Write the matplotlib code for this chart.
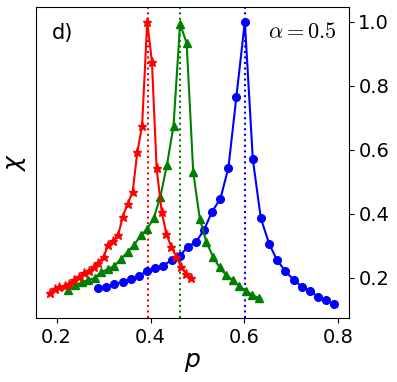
import matplotlib.pyplot as plt

# red stars
p_red = [0.186, 0.196, 0.206, 0.217, 0.227, 0.237, 0.248, 0.258, 0.268, 0.279,
         0.289, 0.300, 0.310, 0.320, 0.331, 0.341, 0.351, 0.362, 0.372, 0.382,
         0.393, 0.403, 0.413, 0.424, 0.434, 0.444, 0.455, 0.465, 0.476, 0.486]
chi_red = [0.151, 0.165, 0.170, 0.175, 0.180, 0.193, 0.203, 0.214, 0.221, 0.234,
           0.247, 0.266, 0.302, 0.315, 0.333, 0.391, 0.430, 0.469, 0.594, 0.674,
           1.000, 0.875, 0.542, 0.404, 0.336, 0.297, 0.266, 0.234, 0.212, 0.200]

# green triangles
p_green = [0.225, 0.239, 0.253, 0.267, 0.281, 0.295, 0.309, 0.323, 0.337, 0.351,
           0.365, 0.379, 0.393, 0.407, 0.421, 0.435, 0.449, 0.463, 0.477, 0.491,
           0.505, 0.519, 0.533, 0.547, 0.561, 0.575, 0.589, 0.603, 0.617, 0.631]
chi_green = [0.163, 0.176, 0.185, 0.193, 0.199, 0.218, 0.226, 0.237, 0.258, 0.280,
             0.302, 0.332, 0.352, 0.387, 0.453, 0.552, 0.674, 0.993, 0.933, 0.530,
             0.384, 0.312, 0.266, 0.232, 0.208, 0.193, 0.174, 0.159, 0.146, 0.136]

# blue circles
p_blue = [0.289, 0.306, 0.323, 0.341, 0.358, 0.375, 0.393, 0.410, 0.427, 0.445,
          0.462, 0.479, 0.497, 0.514, 0.531, 0.549, 0.566, 0.583, 0.601, 0.618,
          0.635, 0.653, 0.670, 0.687, 0.705, 0.722, 0.739, 0.757, 0.774, 0.791]
chi_blue = [0.167, 0.172, 0.179, 0.187, 0.196, 0.206, 0.221, 0.229, 0.238, 0.255,
            0.268, 0.296, 0.312, 0.349, 0.406, 0.447, 0.544, 0.766, 1.000, 0.570,
            0.386, 0.305, 0.254, 0.221, 0.193, 0.172, 0.158, 0.141, 0.130, 0.118]

# critical points
p_c = [0.394, 0.463, 0.601]
colors = ['red', 'green', 'blue']

fig = plt.figure(figsize=(3.97, 3.82), dpi=100)
ax = fig.add_axes([0.0907, 0.1675, 0.7873, 0.8135])

for pc, c in zip(p_c, colors):
    ax.axvline(pc, color=c, linestyle=':', linewidth=1.5)

ax.plot(p_blue, chi_blue, '-o', color='blue', linewidth=1.5, markersize=5.5)
ax.plot(p_green, chi_green, '-^', color='green', linewidth=1.5, markersize=5.5)
ax.plot(p_red, chi_red, '-*', color='red', linewidth=1.5, markersize=6.5)

ax.set_xlim(0.156, 0.822)
ax.set_ylim(0.074, 1.045)
ax.set_xticks([0.2, 0.4, 0.6, 0.8])
ax.set_yticks([0.2, 0.4, 0.6, 0.8, 1.0])
ax.yaxis.tick_right()
ax.tick_params(labelsize=14)

ax.set_xlabel(r'$p$', fontsize=18, labelpad=2)
ax.set_ylabel(r'$\chi$', fontsize=18, labelpad=6)

ax.text(0.086, 0.917, 'd)', transform=ax.transAxes, fontsize=15,
        ha='center', va='center')
ax.text(0.96, 0.92, r'$\alpha = 0.5$', transform=ax.transAxes, fontsize=16,
        ha='right', va='center', math_fontfamily='cm')

fig.savefig('out.png', dpi=100)
